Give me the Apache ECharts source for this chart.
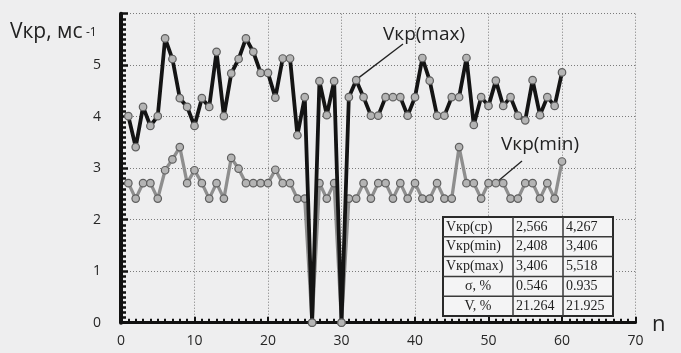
<!DOCTYPE html>
<html>
<head>
<meta charset="utf-8">
<script src="https://cdn.jsdelivr.net/npm/echarts@6/dist/echarts.min.js"></script>
<style>
  html, body { margin: 0; padding: 0; background: #eeeeef; }
  #chart { width: 681px; height: 353px; }
</style>
</head>
<body>
<div id="chart"></div>
<script>
// Measurement index n = 1..60
const nValues = Array.from({ length: 60 }, (_, i) => i + 1);

// Critical speed, maximum per measurement (m/s); 0 where no reading was taken
const vMax = [
  4.01, 3.41, 4.19, 3.82, 4.01, 5.52, 5.12, 4.36, 4.19, 3.82,
  4.36, 4.19, 5.26, 4.01, 4.84, 5.12, 5.52, 5.26, 4.85, 4.85,
  4.37, 5.13, 5.13, 3.64, 4.38, 0,    4.69, 4.03, 4.69, 0,
  4.38, 4.71, 4.38, 4.02, 4.02, 4.38, 4.38, 4.38, 4.02, 4.38,
  5.14, 4.70, 4.02, 4.02, 4.38, 4.38, 5.14, 3.84, 4.38, 4.21,
  4.70, 4.21, 4.38, 4.02, 3.93, 4.71, 4.03, 4.38, 4.21, 4.86
];

// Critical speed, minimum per measurement (m/s)
const vMin = [
  2.71, 2.41, 2.71, 2.71, 2.41, 2.96, 3.17, 3.41, 2.71, 2.96,
  2.71, 2.41, 2.71, 2.41, 3.20, 2.99, 2.71, 2.71, 2.71, 2.71,
  2.97, 2.71, 2.71, 2.41, 2.41, 0,    2.71, 2.41, 2.71, 0,
  2.41, 2.41, 2.71, 2.41, 2.71, 2.71, 2.41, 2.71, 2.41, 2.71,
  2.41, 2.41, 2.71, 2.41, 2.41, 3.41, 2.71, 2.71, 2.41, 2.71,
  2.71, 2.71, 2.41, 2.41, 2.71, 2.71, 2.41, 2.71, 2.41, 3.13
];

// Summary statistics table
const statNames = ['Vкр(ср)', 'Vкр(min)', 'Vкр(max)', 'σ, %', 'V, %'];
const statMin   = ['2,566', '2,408', '3,406', '0.546', '21.264'];
const statMax   = ['4,267', '3,406', '5,518', '0.935', '21.925'];

const xTicks = { min: 0, max: 70, step: 10 };
const yTicks = { min: 0, max: 6, step: 1 };

const chart = echarts.init(document.getElementById('chart'), null, { renderer: 'canvas' });

const axisFont = { fontFamily: 'Open Sans', fontSize: 14, color: '#262626' };
const marker = { color: '#b4b4b4', borderColor: '#5e5e5e', borderWidth: 1.2 };

const option = {
  backgroundColor: '#eeeeef',
  animation: false,
  grid: { left: 121, right: 45.5, top: 13.7, bottom: 30.3, containLabel: false },
  xAxis: {
    type: 'value', min: xTicks.min, max: xTicks.max, interval: xTicks.step,
    axisLine: { show: true, onZero: false, lineStyle: { color: '#111', width: 3 } },
    axisTick: { show: true, inside: true, length: 6, lineStyle: { color: '#111', width: 2 } },
    minorTick: { show: true, splitNumber: 10, length: 4, lineStyle: { color: '#111', width: 2 } },
    axisLabel: Object.assign({ margin: 11 }, axisFont),
    splitLine: { show: true, lineStyle: { color: '#7a7a7a', width: 1, type: [1, 2] } }
  },
  yAxis: {
    type: 'value', min: yTicks.min, max: yTicks.max, interval: yTicks.step,
    axisLine: { show: true, onZero: false, lineStyle: { color: '#111', width: 4 } },
    axisTick: { show: true, inside: true, length: 7, lineStyle: { color: '#111', width: 2.5 } },
    minorTick: { show: true, splitNumber: 10, length: 5, lineStyle: { color: '#111', width: 2.5 } },
    axisLabel: Object.assign({ margin: 20, showMaxLabel: false }, axisFont),
    splitLine: { show: true, lineStyle: { color: '#7a7a7a', width: 1, type: [1, 2] } }
  },
  series: [
    {
      name: 'Vкр(min)', type: 'line',
      data: nValues.map((n, i) => [n, vMin[i]]),
      symbol: 'circle', symbolSize: 7.5, showAllSymbol: true,
      lineStyle: { color: '#8e8e8e', width: 3.3 },
      itemStyle: marker, z: 2
    },
    {
      name: 'Vкр(max)', type: 'line',
      data: nValues.map((n, i) => [n, vMax[i]]),
      symbol: 'circle', symbolSize: 7.5, showAllSymbol: true,
      lineStyle: { color: '#141414', width: 3.8 },
      itemStyle: marker, z: 3
    }
  ]
};
chart.setOption(option);

// Annotations: axis titles, series callouts and the statistics table
const pMax = chart.convertToPixel({ gridIndex: 0 }, [nValues[31], vMax[31]]);
const pMin = chart.convertToPixel({ gridIndex: 0 }, [nValues[50], vMin[50]]);

const graphics = [
  { type: 'text', left: 10, top: 22, style: { text: 'Vкр, мс', font: '21px "Open Sans"', fill: '#222' } },
  { type: 'text', left: 86, top: 27, style: { text: '-1', font: '12px "Open Sans"', fill: '#222' } },
  { type: 'text', left: 652, top: 314, style: { text: 'n', font: '22px "Open Sans"', fill: '#222' } },
  { type: 'text', left: 383, top: 25, style: { text: 'Vкр(max)', font: '19px "Open Sans"', fill: '#222' } },
  { type: 'line', shape: { x1: pMax[0] + 2, y1: pMax[1] - 2, x2: 403, y2: 44 }, style: { stroke: '#222', lineWidth: 1.3 } },
  { type: 'text', left: 501, top: 135, style: { text: 'Vкр(min)', font: '19px "Open Sans"', fill: '#222' } },
  { type: 'line', shape: { x1: pMin[0] + 2, y1: pMin[1] - 2, x2: 522, y2: 161 }, style: { stroke: '#222', lineWidth: 1.3 } }
];

// Statistics table
const tX = 443, tY = 217, rowH = 19.8;
const colX = [443, 513, 563, 613];
graphics.push({ type: 'rect', shape: { x: tX, y: tY, width: colX[3] - tX, height: rowH * statNames.length },
  style: { fill: '#f4f4f5', stroke: '#2a2a2a', lineWidth: 2 }, z: 10 });
for (let r = 1; r < statNames.length; r++) {
  graphics.push({ type: 'line', shape: { x1: tX, y1: tY + r * rowH, x2: colX[3], y2: tY + r * rowH },
    style: { stroke: '#3a3a3a', lineWidth: 1.5 }, z: 11 });
}
for (let c = 1; c < 3; c++) {
  graphics.push({ type: 'line', shape: { x1: colX[c], y1: tY, x2: colX[c], y2: tY + rowH * statNames.length },
    style: { stroke: '#3a3a3a', lineWidth: 1.5 }, z: 11 });
}
const cellFont = '14px "Liberation Serif"';
statNames.forEach((name, r) => {
  const cy = tY + r * rowH + rowH / 2;
  const centered = r >= 3;
  graphics.push({ type: 'text', z: 12, style: {
    text: name, font: cellFont, fill: '#1e1e1e',
    x: centered ? (colX[0] + colX[1]) / 2 : colX[0] + 3, y: cy,
    textAlign: centered ? 'center' : 'left', textVerticalAlign: 'middle' } });
  graphics.push({ type: 'text', z: 12, style: {
    text: statMin[r], font: cellFont, fill: '#1e1e1e',
    x: colX[1] + 3, y: cy, textAlign: 'left', textVerticalAlign: 'middle' } });
  graphics.push({ type: 'text', z: 12, style: {
    text: statMax[r], font: cellFont, fill: '#1e1e1e',
    x: colX[2] + 3, y: cy, textAlign: 'left', textVerticalAlign: 'middle' } });
});

chart.setOption({ graphic: graphics });
</script>
</body>
</html>
